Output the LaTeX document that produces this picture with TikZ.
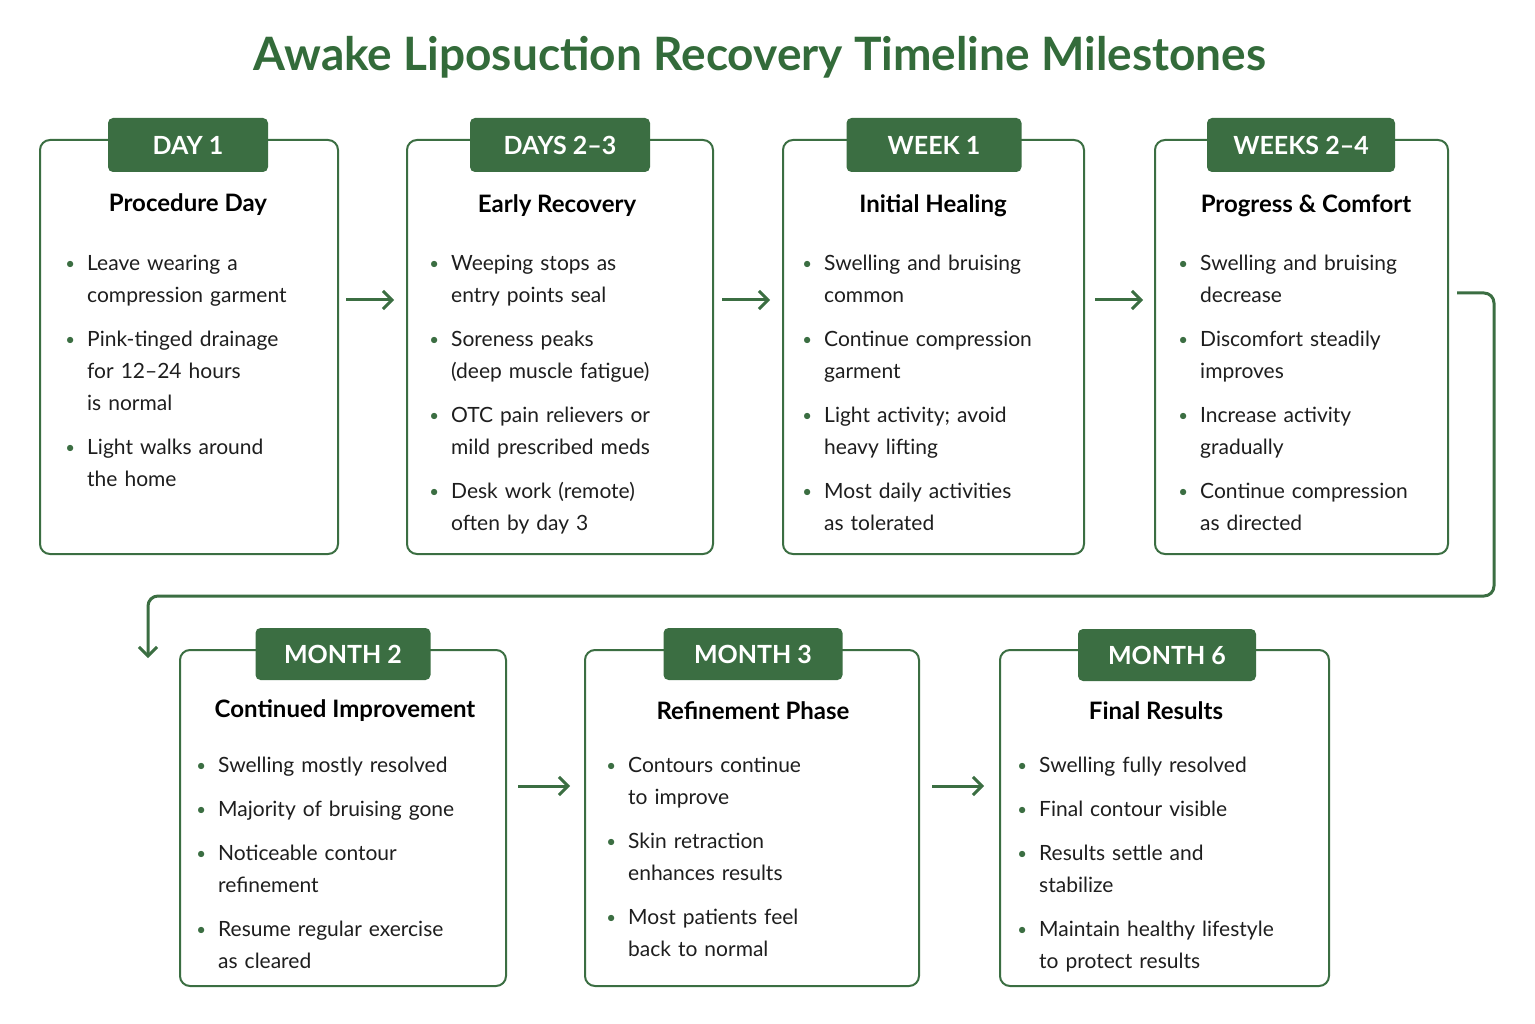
\documentclass[tikz,border=0pt]{standalone}
\usepackage{fontspec}
\setmainfont{Lato}
\usetikzlibrary{arrows.meta}
\definecolor{dg}{HTML}{3B6E42}
\definecolor{tg}{HTML}{336B3A}
\definecolor{tx}{HTML}{1E1E1E}
\newcommand\bul[1]{\par\noindent\llap{\textcolor{dg}{\raisebox{1pt}{\scalebox{0.8}{\textbullet}}}\hspace{12pt}}#1\par\vspace{12pt}}
\tikzset{
 box/.style={draw=dg,line width=2pt,rounded corners=10pt,fill=white},
 tab/.style={fill=dg,rounded corners=5pt,text=white,font=\fontsize{25}{25}\selectfont\bfseries,inner sep=0pt},
 head/.style={font=\fontsize{24}{24}\selectfont\bfseries,text=black},
 body/.style={anchor=north west,text width=290pt,inner sep=0pt,font=\fontsize{21}{32}\selectfont,text=tx},
 arr/.style={draw=dg,line width=3pt,-{Straight Barb[length=9pt,width=18pt]}},
}
\begin{document}
\begin{tikzpicture}[x=1pt,y=-1pt]
\useasboundingbox (0,0) rectangle (1535,1024);
\node[text=tg,font=\fontsize{46}{46}\selectfont\bfseries] (title) at (760,57) {Awake Liposuction Recovery Timeline Milestones};
% row 1
\draw[box] (40,140) rectangle (338,554); \coordinate (b1) at (189,300);
\draw[box] (407,140) rectangle (713,554);
\draw[box] (783,140) rectangle (1084,554);
\draw[box] (1155,140) rectangle (1448,554);
\node[tab,minimum width=160pt,minimum height=54pt] (t1) at (188,145) {DAY 1};
\node[tab,minimum width=180pt,minimum height=54pt] (t2) at (560,145) {DAYS 2–3};
\node[tab,minimum width=175pt,minimum height=54pt] (t3) at (934,145) {WEEK 1};
\node[tab,minimum width=188pt,minimum height=54pt] (t4) at (1301,145) {WEEKS 2–4};
\node[head] (h1) at (188,205) {Procedure Day};
\node[head] (h2) at (557,206) {Early Recovery};
\node[head] (h3) at (933,206) {Initial Healing};
\node[head] (h4) at (1306,206) {Progress \& Comfort};
\node[body] (l1) at (87,238) {\bul{Leave wearing a\\compression garment}\bul{Pink-tinged drainage\\for 12–24 hours\\is normal}\bul{Light walks around\\the home}};
\node[body] (l2) at (451,238) {\bul{Weeping stops as\\entry points seal}\bul{Soreness peaks\\(deep muscle fatigue)}\bul{OTC pain relievers or\\mild prescribed meds}\bul{Desk work (remote)\\often by day 3}};
\node[body] (l3) at (824,238) {\bul{Swelling and bruising\\common}\bul{Continue compression\\garment}\bul{Light activity; avoid\\heavy lifting}\bul{Most daily activities\\as tolerated}};
\node[body] (l4) at (1200,238) {\bul{Swelling and bruising\\decrease}\bul{Discomfort steadily\\improves}\bul{Increase activity\\gradually}\bul{Continue compression\\as directed}};
\coordinate (a1s) at (346,300); \coordinate (a1e) at (394,300);
\coordinate (a2s) at (722,300); \coordinate (a2e) at (770,300);
\coordinate (a3s) at (1095,300); \coordinate (a3e) at (1143,300);
\draw[arr] (a1s) -- (a1e); \draw[arr] (a2s) -- (a2e); \draw[arr] (a3s) -- (a3e);
% connector
\coordinate (cs) at (1457,293); \coordinate (ce) at (148,658);
\draw[arr,rounded corners=10pt] (cs) -- (1494,293) -- (1494,596) -- (148,596) -- (ce);
% row 2
\draw[box] (180,650) rectangle (506,986);
\draw[box] (585,650) rectangle (919,986);
\draw[box] (1000,650) rectangle (1329,986);
\node[tab,minimum width=175pt,minimum height=52pt] (t5) at (343,654) {MONTH 2};
\node[tab,minimum width=179pt,minimum height=52pt] (t6) at (753,654) {MONTH 3};
\node[tab,minimum width=178pt,minimum height=52pt] (t7) at (1167,655) {MONTH 6};
\node[head] (h5) at (345,711) {Continued Improvement};
\node[head] (h6) at (753,711) {Refinement Phase};
\node[head] (h7) at (1156,711) {Final Results};
\node[body] (l5) at (218,740) {\bul{Swelling mostly resolved}\bul{Majority of bruising gone}\bul{Noticeable contour\\refinement}\bul{Resume regular exercise\\as cleared}};
\node[body] (l6) at (628,740) {\bul{Contours continue\\to improve}\bul{Skin retraction\\enhances results}\bul{Most patients feel\\back to normal}};
\node[body] (l7) at (1039,740) {\bul{Swelling fully resolved}\bul{Final contour visible}\bul{Results settle and\\stabilize}\bul{Maintain healthy lifestyle\\to protect results}};
\coordinate (a4s) at (518,786); \coordinate (a4e) at (570,786);
\coordinate (a5s) at (932,786); \coordinate (a5e) at (984,786);
\draw[arr] (a4s) -- (a4e); \draw[arr] (a5s) -- (a5e);
\end{tikzpicture}
\end{document}
